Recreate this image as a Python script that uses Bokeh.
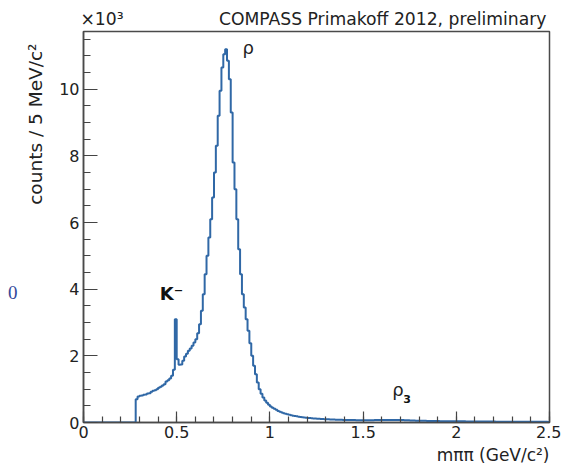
import numpy as np
from bokeh.plotting import figure
from bokeh.models import Label, FixedTicker, Range1d, Title, LinearAxis
from bokeh.embed import file_html
from bokeh.resources import INLINE

# ---------------- data ----------------
# histogram: counts per bin, bins start at 0.28 GeV/c^2, 0.01 GeV/c^2 wide
bin_start = 0.28
bin_width = 0.01
counts = [
    700, 780, 800, 810, 830, 840, 870, 880, 920, 950,          # 0.28-0.37
    970, 1000, 1040, 1070, 1110, 1150, 1230, 1270, 1320, 1400,  # 0.38-0.47
    1580, 3100, 1900, 1730, 1740, 1850, 1980, 2060, 2150, 2220, # 0.48-0.57
    2300, 2400, 2500, 2680, 2950, 3350, 3850, 4450, 5000, 5550, # 0.58-0.67
    6100, 6750, 7500, 8300, 9200, 9950, 10650, 11050, 11200, 10850,  # 0.68-0.77
    10300, 9300, 7800, 7000, 6100, 5200, 4450, 3850, 3450, 3100,     # 0.78-0.87
    2750, 2380, 2000, 1700, 1450, 1200, 1000, 860, 750, 660,    # 0.88-0.97
    590, 530, 480, 440, 410, 380, 345, 320, 300, 280,           # 0.98-1.07
    260, 245, 230, 215, 205, 195, 185, 175, 165, 158,           # 1.08-1.17
    150, 143, 137, 132, 127, 123, 119, 115, 111, 107,           # 1.18-1.27
    104, 101, 98, 95, 92, 90, 88, 86, 84, 82,                   # 1.28-1.37
    80, 78, 77, 76, 75, 74, 73, 72, 71, 71,                     # 1.38-1.47
    70, 70, 70, 69, 69, 70, 70, 71, 72, 72,                     # 1.48-1.57
    73, 74, 75, 75, 76, 77, 77, 78, 78, 78,                     # 1.58-1.67
    77, 76, 74, 72, 70, 67, 65, 62, 60, 58,                     # 1.68-1.77
    56, 54, 52, 51, 50, 49, 48, 47, 46, 45,                     # 1.78-1.87
    44, 43, 42, 41, 41, 40, 39, 39, 38, 37,                     # 1.88-1.97
    37, 36, 36, 35, 35, 34, 34, 33, 33, 32,                     # 1.98-2.07
    32, 31, 31, 30, 30, 29, 29, 29, 28, 28,                     # 2.08-2.17
    27, 27, 27, 26, 26, 26, 25, 25, 25, 24,                     # 2.18-2.27
    24, 24, 23, 23, 23, 22, 22, 22, 22, 21,                     # 2.28-2.37
    21, 21, 21, 20, 20, 20, 20, 19, 19, 19,                     # 2.38-2.47
    19, 18,                                                     # 2.48-2.49
]

x_major = [0, 0.5, 1, 1.5, 2, 2.5]
x_major_labels = ["0", "0.5", "1", "1.5", "2", "2.5"]
y_major = [0, 2000, 4000, 6000, 8000, 10000]
y_major_labels = ["0", "2", "4", "6", "8", "10"]

title_text = "COMPASS Primakoff 2012, preliminary"
y_title = "counts / 5 MeV/c²"
x_title = "mππ (GeV/c²)"
exp_text = "×10³"
fragment_text = "0"

# ---------------- build step line ----------------
n = len(counts)
edges = bin_start + bin_width * np.arange(n + 1)
xs = [0.0]
ys = [0.0]
for i, c in enumerate(counts):
    xs += [edges[i], edges[i]]
    ys += [ys[-1], c]
    xs.append(edges[i + 1])
    ys.append(c)
xs.append(edges[-1])
ys.append(0)

X_MAX = 2.5
Y_MAX = 11730
FONT = "DejaVu Sans"
TXT = "#222222"
TICK_COL = "#444444"

p = figure(width=561, height=471, output_backend="svg", toolbar_location=None,
           x_range=Range1d(0, X_MAX), y_range=Range1d(0, Y_MAX),
           min_border_left=83, min_border_right=12, min_border_top=31,
           min_border_bottom=49)
p.background_fill_color = "white"
p.border_fill_color = "white"
p.xgrid.visible = False
p.ygrid.visible = False
p.outline_line_color = "#4a4a4a"
p.outline_line_width = 1.5

p.line(xs, ys, line_color="#3068a6", line_width=2)

xa = p.xaxis[0]
xa.ticker = FixedTicker(ticks=x_major,
                        minor_ticks=[round(0.1 * k, 2) for k in range(26)])
xa.major_label_overrides = dict(zip(x_major, x_major_labels))
xa.major_tick_in = 11
xa.major_tick_out = 0
xa.minor_tick_in = 6
xa.minor_tick_out = 0
xa.major_label_standoff = 3
xa.major_label_text_font = FONT
xa.major_label_text_font_size = "16px"
xa.major_label_text_color = TXT
xa.axis_line_color = "#4a4a4a"
xa.axis_line_width = 1.5
xa.major_tick_line_color = TICK_COL
xa.minor_tick_line_color = TICK_COL
xa.major_tick_line_width = 1.2
xa.minor_tick_line_width = 1.2

ya = p.yaxis[0]
ya.ticker = FixedTicker(ticks=y_major, minor_ticks=[500 * k for k in range(24)])
ya.major_label_overrides = dict(zip(y_major, y_major_labels))
ya.major_tick_in = 14
ya.major_tick_out = 0
ya.minor_tick_in = 7
ya.minor_tick_out = 0
ya.major_label_standoff = 4
ya.major_label_text_font = FONT
ya.major_label_text_font_size = "16px"
ya.major_label_text_color = TXT
ya.axis_line_color = "#4a4a4a"
ya.axis_line_width = 1.5
ya.major_tick_line_color = TICK_COL
ya.minor_tick_line_color = TICK_COL
ya.major_tick_line_width = 1.2
ya.minor_tick_line_width = 1.2

# top text row: exponent at the left corner and the plot title at the right
top_pos = [0.0993, 1.605]
top_axis = LinearAxis(ticker=FixedTicker(ticks=top_pos, minor_ticks=[]),
                      major_label_overrides=dict(zip(top_pos, [exp_text, title_text])),
                      axis_line_color=None, major_tick_line_color=None,
                      minor_tick_line_color=None, major_tick_in=0, major_tick_out=0,
                      major_label_standoff=3, major_label_text_font=FONT,
                      major_label_text_font_size="17.2px", major_label_text_color=TXT)
p.add_layout(top_axis, "above")

# y axis title, aligned to the top end
p.add_layout(Title(text=y_title, align="right", offset=12, text_font=FONT,
                   text_font_size="18.5px", text_font_style="normal",
                   text_color=TXT, standoff=21), "left")

# stray fragment at the left edge of the picture
frag_pos = [3900]
frag_axis = LinearAxis(ticker=FixedTicker(ticks=frag_pos, minor_ticks=[]),
                       major_label_overrides=dict(zip(frag_pos, [fragment_text])),
                       axis_line_color=None, major_tick_line_color=None,
                       minor_tick_line_color=None, major_tick_in=0, major_tick_out=0,
                       major_label_standoff=-5, major_label_text_font="Liberation Serif",
                       major_label_text_font_size="19px", major_label_text_color="#34489a")
p.add_layout(frag_axis, "left")

# x axis title, right aligned at the end of the axis
p.add_layout(Title(text=x_title, align="right", text_font=FONT,
                   text_font_size="17px", text_font_style="normal",
                   text_color=TXT, standoff=5), "below")

# peak annotations
p.add_layout(Label(x=0.884, y=11260, text="ρ", text_align="center",
                   text_baseline="alphabetic", text_font=FONT,
                   text_font_size="18px", text_color=TXT))
p.add_layout(Label(x=0.409, y=3870, text="K⁻", text_align="left",
                   text_baseline="alphabetic", text_font=FONT,
                   text_font_size="18px", text_font_style="bold", text_color="#111111"))
p.add_layout(Label(x=1.656, y=990, text="ρ", text_align="left",
                   text_baseline="alphabetic", text_font=FONT,
                   text_font_size="18px", text_color=TXT))
p.add_layout(Label(x=1.715, y=720, text="3", text_align="left",
                   text_baseline="alphabetic", text_font=FONT,
                   text_font_size="11px", text_font_style="bold", text_color="#111111"))

open("out.html", "w").write(file_html(p, INLINE))
